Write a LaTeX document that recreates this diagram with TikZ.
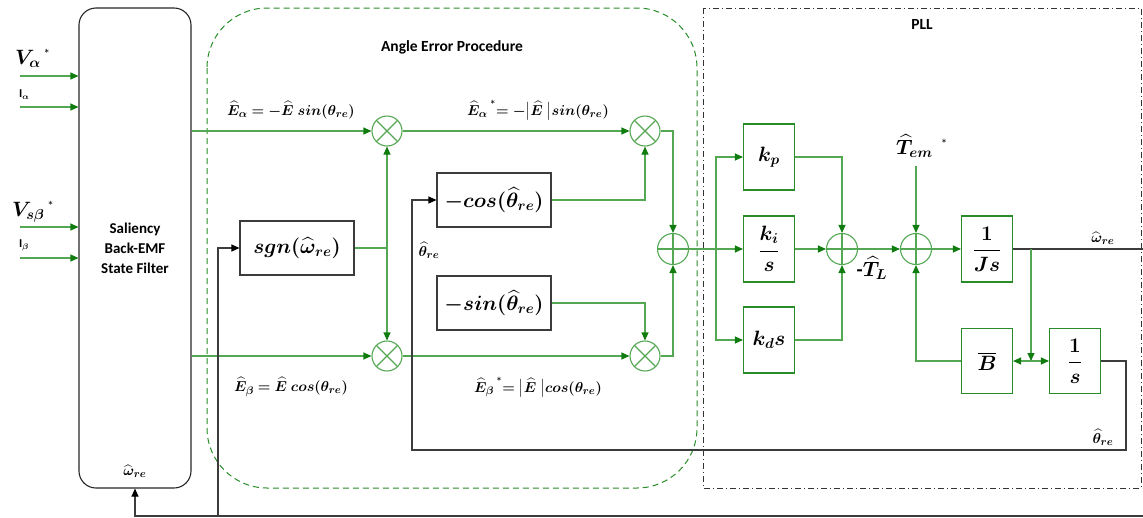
\documentclass[tikz,border=0pt]{standalone}
\usepackage{amsmath,bm}
\usepackage{fontspec}
\setmainfont{Carlito}
\usetikzlibrary{arrows.meta,calc}
\DeclareMathSizes{14}{14}{11}{8.5}
\DeclareMathSizes{20}{20}{15}{11}
\definecolor{gl}{RGB}{84,168,84}
\definecolor{gd}{RGB}{16,124,16}
\definecolor{gb}{RGB}{40,140,40}
\definecolor{kl}{RGB}{60,60,60}
\tikzset{
  gline/.style={draw=gl,line width=1.1pt},
  garr/.style={gline,-{Triangle[length=8pt,width=7pt,color=gd]}},
  gdarr/.style={gline,{Triangle[length=8pt,width=7pt,color=gd]}-{Triangle[length=8pt,width=7pt,color=gd]}},
  kline/.style={draw=kl,line width=1.1pt},
  karr/.style={kline,-{Triangle[length=8pt,width=7pt,color=black]}},
  blk/.style={draw=kl,line width=1.1pt,minimum width=114pt,minimum height=54pt,inner sep=0pt,font=\fontsize{20}{24}\selectfont},
  gblk/.style={draw=gb,line width=1.1pt,minimum width=51pt,minimum height=66pt,inner sep=0pt,font=\fontsize{20}{24}\selectfont},
  mult/.style={circle,draw=gl,line width=1.1pt,minimum size=30pt,inner sep=0pt,
    path picture={\draw[gl,line width=1.1pt] (path picture bounding box.north east) -- (path picture bounding box.south west)
      (path picture bounding box.north west) -- (path picture bounding box.south east);}},
  summ/.style={circle,draw=gl,line width=1.1pt,minimum size=31pt,inner sep=0pt,
    path picture={\draw[gl,line width=1.1pt] (path picture bounding box.north) -- (path picture bounding box.south)
      (path picture bounding box.west) -- (path picture bounding box.east);}},
  lab/.style={inner sep=0pt,font=\fontsize{14}{16}\selectfont},
  biglab/.style={inner sep=0pt,font=\fontsize{20}{24}\selectfont},
  ttl/.style={inner sep=0pt,font=\fontsize{15.5}{18}\selectfont\bfseries},
  inlab/.style={inner sep=0pt,anchor=west,font=\fontsize{12}{14}\selectfont\bfseries},
}
\newcommand{\upstar}[1]{\hspace{#1}\raisebox{6pt}{\fontsize{13}{13}\selectfont *}}
\begin{document}
\begin{tikzpicture}[x=1pt,y=-1pt]
\useasboundingbox (0,0) rectangle (1143,517);

% frames of the two stages
\draw[draw=gb,line width=1pt,dash pattern=on 6pt off 4pt,rounded corners=60pt] (207,8) rectangle (697,488);
\node[ttl] (aetitle) at (452,47) {Angle Error Procedure};
\draw[draw=black!80,line width=0.9pt,dash pattern=on 6pt off 3pt on 1pt off 3pt] (703,8) rectangle (1141,488);
\node[ttl] (plltitle) at (922,24) {PLL};

% state filter
\node[draw=black!85,line width=1.1pt,rounded corners=17pt,minimum width=112pt,minimum height=480pt] (filt) at (135,248) {};
\node[ttl,align=center,font=\fontsize{15}{20}\selectfont\bfseries] (filttxt) at (135,248) {Saliency\\Back-EMF\\State Filter};
\node[lab] (fw) at (135,471) {$\bm{\widehat{\omega}_{re}}$};

% inputs
\coordinate (va) at (20,76);
\coordinate (ia) at (20,107);
\coordinate (vb) at (20,227);
\coordinate (ib) at (20,258);
\draw[garr] (va) -- (va -| filt.west);
\draw[garr] (ia) -- (ia -| filt.west);
\draw[garr] (vb) -- (vb -| filt.west);
\draw[garr] (ib) -- (ib -| filt.west);
\node[biglab,anchor=west] (lva) at (15,58) {$\bm{V_{\alpha}}$\upstar{3pt}};
\node[inlab] (lia) at (19,95) {I$_{\bm{\alpha}}$};
\node[biglab,anchor=west] (lvb) at (12,212) {$\bm{V_{s\beta}}$\upstar{3pt}};
\node[inlab] (lib) at (19,245) {I$_{\bm{\beta}}$};

% angle error procedure
\node[mult] (m1) at (387,131) {};
\node[mult] (m2) at (387,356) {};
\node[mult] (m3) at (645,131) {};
\node[mult] (m4) at (645,356) {};
\node[summ] (s1) at (673,249) {};
\node[blk] (sgn) at (297,248) {$\bm{sgn(\widehat{\omega}_{re})}$};
\node[blk] (cosb) at (494,200) {$\bm{-cos(\widehat{\theta}_{re})}$};
\node[blk] (sinb) at (494,303) {$\bm{-sin(\widehat{\theta}_{re})}$};

\draw[garr] (filt.east |- m1) -- (m1);
\draw[garr] (filt.east |- m2) -- (m2);
\node[lab] (ea) at (291,110) {$\bm{\widehat{E}_{\alpha} = -\widehat{E}\;sin(\theta_{re})}$};
\node[lab] (eb) at (291,387) {$\bm{\widehat{E}_{\beta} = \widehat{E}\;cos(\theta_{re})}$};
\draw[gline] (sgn.east) -- (sgn.east -| m1) coordinate (jn);
\draw[garr] (jn) -- (m1.south);
\draw[garr] (jn) -- (m2.north);
\draw[garr] (m1) -- (m3);
\draw[garr] (m2) -- (m4);
\node[lab] (eas) at (538,110) {$\bm{\widehat{E}_{\alpha}}$\upstar{2pt}$\bm{= -\big|\widehat{E}\;\big|sin(\theta_{re})}$};
\node[lab] (ebs) at (538,387) {$\bm{\widehat{E}_{\beta}}$\upstar{2pt}$\bm{= \big|\widehat{E}\;\big|cos(\theta_{re})}$};
\draw[garr] (cosb.east) -| (m3.south);
\draw[garr] (sinb.east) -| (m4.north);
\draw[garr] (m3.east) -| (s1.north);
\draw[garr] (m4.east) -| (s1.south);

% PLL
\node[gblk] (kp) at (769,157) {$\bm{k_p}$};
\node[gblk] (ki) at (769,249) {$\bm{\dfrac{k_i}{s}}$};
\node[gblk] (kd) at (769,340) {$\bm{k_d s}$};
\node[summ] (p1) at (842,249) {};
\node[summ] (p2) at (916,249) {};
\node[gblk] (js) at (987,249) {$\bm{\dfrac{1}{Js}}$};
\node[gblk,minimum height=65pt] (bb) at (987,361) {$\bm{\overline{B}}$};
\node[gblk,minimum height=65pt] (is) at (1075,361) {$\bm{\dfrac{1}{s}}$};

\coordinate (br) at (716,249);
\draw[garr] (s1.east) -- (ki.west);
\draw[garr] (br) |- (kp.west);
\draw[garr] (br) |- (kd.west);
\draw[garr] (kp.east) -| (p1.north);
\draw[garr] (ki.east) -- (p1.west);
\draw[garr] (kd.east) -| (p1.south);
\draw[garr] (p1.east) -- (p2.west);
\draw[garr] (p2.east) -- (js.west);
\node[biglab] (tl) at (872,268) {\textbf{-}$\bm{\widehat{T}_L}$};
\node[biglab,anchor=west] (tem) at (896,146) {$\bm{\widehat{T}_{em}}$\upstar{8pt}};
\coordinate (temb) at (916,166);
\draw[garr] (temb) -- (p2.north);
\draw[garr] (bb.west) -| (p2.south);
\coordinate (wout) at (1143,249);
\draw[kline] (js.east) -- (wout);
\node[lab] (wl) at (1103,238) {$\bm{\widehat{\omega}_{re}}$};
\coordinate (tap) at (1031,249);
\draw[garr] (tap) -- (tap |- bb.east);
\draw[gdarr] (bb.east) -- (is.west);

% angle feedback
\coordinate (tb) at (1126,450);
\coordinate (tlft) at (412,450);
\draw[karr] (is.east) -| (tb) -- (tlft) |- (cosb.west);
\node[lab] (th1) at (1103,437) {$\bm{\widehat{\theta}_{re}}$};
\node[lab] (th2) at (429,250) {$\bm{\widehat{\theta}_{re}}$};

% speed feedback
\coordinate (bR) at (1143,516);
\coordinate (bL) at (135,516);
\draw[karr] (bR) -- (bL) -- (filt.south);
\coordinate (sg) at (218,516);
\draw[karr] (sg) |- (sgn.west);
\end{tikzpicture}
\end{document}
